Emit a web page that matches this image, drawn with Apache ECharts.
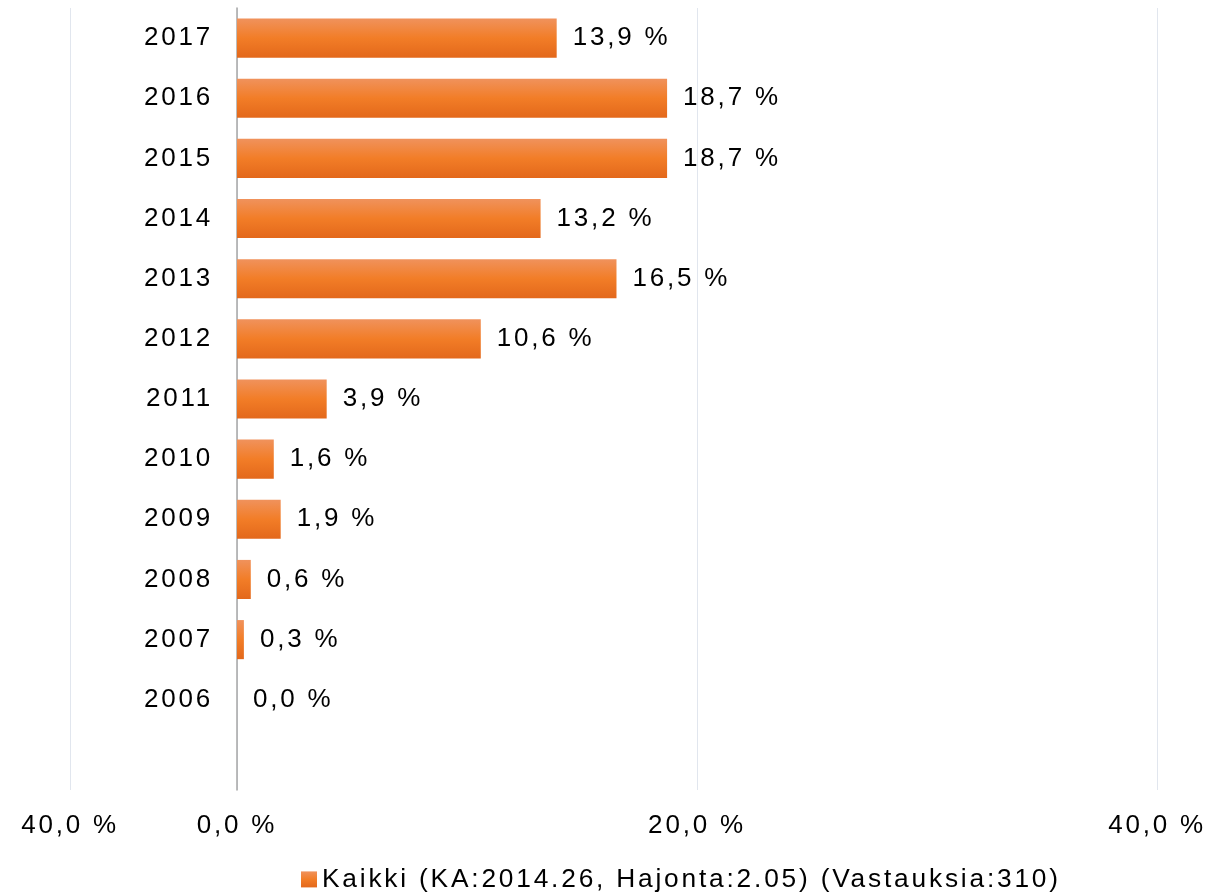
<!DOCTYPE html>
<html>
<head>
<meta charset="utf-8">
<script src="https://cdn.jsdelivr.net/npm/echarts@6/dist/echarts.min.js"></script>
<style>
	html, body { margin: 0; padding: 0; background: #fff; }
	#chart { width: 1230px; height: 893px; }
</style>
</head>
<body>
<div id="chart"></div>
<script>
	// vuodet ylhäältä alas
	var years = ['2017', '2016', '2015', '2014', '2013', '2012', '2011', '2010', '2009', '2008', '2007', '2006'];
	var values = [13.9, 18.7, 18.7, 13.2, 16.5, 10.6, 3.9, 1.6, 1.9, 0.6, 0.3, 0.0];
	var seriesName = 'Kaikki (KA:2014.26, Hajonta:2.05) (Vastauksia:310)';
	// x-akselin jakoviivat ja niiden tekstit
	var tickValues = [-7.26, 0, 20, 40];
	var tickLabels = ['40,0 %', '0,0 %', '20,0 %', '40,0 %'];

	// Excelin leveämpi kirjainväli
	var proto = CanvasRenderingContext2D.prototype;
	['fillText', 'strokeText', 'measureText'].forEach(function(fn) {
		var orig = proto[fn];
		proto[fn] = function() {
			this.letterSpacing = '2.8px';
			return orig.apply(this, arguments);
		};
	});

	var font = 'Liberation Sans, Arial, sans-serif';
	var chart = echarts.init(document.getElementById('chart'));
	var option = {
		animation: false,
		textStyle: {
			fontFamily: font
		},
		grid: {
			left: 70,
			right: 73,
			top: 8,
			bottom: 103,
			containLabel: false,
			outerBoundsMode: 'none'
		},
		legend: {
			left: 296,
			top: 860,
			icon: 'rect',
			itemWidth: 16,
			itemHeight: 16,
			itemGap: 5,
			textStyle: {
				fontSize: 26.3,
				color: '#000',
				fontFamily: font
			},
			data: [seriesName]
		},
		xAxis: {
			type: 'value',
			min: -7.26,
			max: 40,
			axisLine: {
				show: false
			},
			axisTick: {
				show: false,
				customValues: tickValues
			},
			axisLabel: {
				customValues: tickValues,
				margin: 21,
				fontSize: 26,
				color: '#000',
				fontFamily: font,
				formatter: function(v) {
					var i = tickValues.indexOf(v);
					return i >= 0 ? tickLabels[i] : '';
				}
			},
			splitLine: {
				show: true,
				lineStyle: {
					color: '#e1e6ee',
					width: 1
				}
			}
		},
		yAxis: {
			type: 'category',
			inverse: true,
			data: years.concat(['']),
			// akseli nollakohtaan
			offset: -167,
			axisLine: {
				onZero: false,
				lineStyle: {
					color: '#a6a6a6',
					width: 1.5
				}
			},
			axisTick: {
				show: false
			},
			axisLabel: {
				margin: 24,
				fontSize: 26,
				color: '#000',
				fontFamily: font
			}
		},
		series: [{
			name: seriesName,
			type: 'bar',
			barCategoryGap: '35%',
			data: values,
			itemStyle: {
				color: new echarts.graphic.LinearGradient(0, 0, 0, 1, [{
					offset: 0,
					color: '#f0925c'
				}, {
					offset: 0.5,
					color: '#f27d27'
				}, {
					offset: 1,
					color: '#e3681b'
				}])
			},
			label: {
				show: true,
				position: 'right',
				distance: 16,
				fontSize: 26,
				color: '#000',
				fontFamily: font,
				formatter: function(p) {
					return p.value.toFixed(1).replace('.', ',') + ' %';
				}
			}
		}]
	};
	chart.setOption(option);
</script>
</body>
</html>
